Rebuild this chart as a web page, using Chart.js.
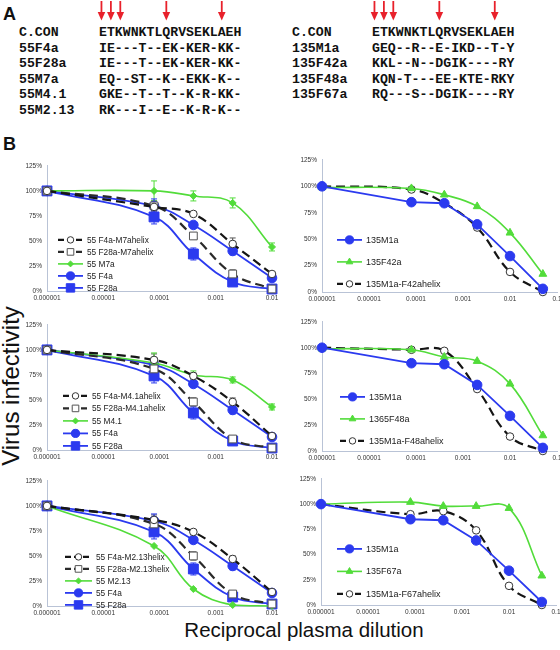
<!DOCTYPE html>
<html>
<head>
<meta charset="utf-8">
<script src="https://cdn.jsdelivr.net/npm/chart.js@4.4.1/dist/chart.umd.min.js"></script>
<style>
  body { margin: 0; background: #fff; }
  #fig { position: relative; width: 560px; height: 650px; overflow: hidden; font-family: "Liberation Sans", Arial, sans-serif; color: #111; }
  .panel { position: absolute; font-weight: bold; font-size: 18px; line-height: 18px; }
  .seq { position: absolute; font-family: "Liberation Mono", "Courier New", monospace; font-weight: bold; font-size: 13.2px; line-height: 15.5px; white-space: pre; color: #111; }
  canvas { position: absolute; }
  .title { position: absolute; white-space: nowrap; transform: translate(-50%, -50%); }
</style>
</head>
<body>
<div id="fig">
  <div class="panel" style="left:3px;top:5px">A</div>
  <div class="panel" style="left:3px;top:135px">B</div>
  <svg id="arrows" width="560" height="24" style="position:absolute;left:0;top:0"></svg>
  <div class="seq" id="namesL" style="left:19px;top:25px"></div>
  <div class="seq" id="seqL" style="left:99px;top:25px"></div>
  <div class="seq" id="namesR" style="left:292px;top:25px"></div>
  <div class="seq" id="seqR" style="left:372px;top:25px"></div>
  <div class="title" style="left:11px;top:386px;font-size:24px;transform:translate(-50%,-50%) rotate(-90deg)">Virus infectivity</div>
  <div class="title" style="left:304px;top:630px;font-size:20.5px">Reciprocal plasma dilution</div>
</div>
<script>
// ---- panel A: sequence alignment ----
const consensus = 'ETKWNKTLQRVSEKLAEH';
const namesLeft = ['C.CON', '55F4a', '55F28a', '55M7a', '55M4.1', '55M2.13'];
const seqsLeft = [consensus, 'IE---T--EK-KER-KK-', 'IE---T--EK-KER-KK-', 'EQ--ST--K--EKK-K--', 'GKE--T--T--K-R-KK-', 'RK---I--E--K-R-K--'];
const namesRight = ['C.CON', '135M1a', '135F42a', '135F48a', '135F67a'];
const seqsRight = [consensus, 'GEQ--R--E-IKD--T-Y', 'KKL--N--DGIK----RY', 'KQN-T---EE-KTE-RKY', 'RQ---S--DGIK----RY'];
const arrowCols = [0, 1, 2, 8, 15];

// ---- panel B: neutralization curves (% infectivity) ----
const xLeft = [0.000001, 0.00008, 0.0004, 0.002, 0.01];
const xRight = [0.000001, 0.00008, 0.0004, 0.002, 0.01, 0.05];
const xTicksLeft = ['0.000001', '0.00001', '0.0001', '0.001', '0.01'];
const xTicksRight = ['0.000001', '0.00001', '0.0001', '0.001', '0.01', '0.1'];
const yTicks = [0, 25, 50, 75, 100, 125];

const f4a = [100, 85, 66, 40, 13];
const f4aErr = [0, 7, 2, 4, 2];
const f28a = [100, 74, 37, 9, 2];
const f28aErr = [0, 7, 6, 2, 1];

const m7F4aHelix = [100, 84, 77, 47, 17];
const m7F4aHelixErr = [0, 4, 2, 6, 2];
const m7F28aHelix = [100, 85, 55, 17, 2];
const m7F28aHelixErr = [0, 5, 3, 4, 1];
const m7a = [100, 100, 95, 88, 44];
const m7aErr = [0, 10, 5, 5, 4];

const m41F4aHelix = [100, 90, 74, 48, 14];
const m41F4aHelixErr = [0, 6, 3, 4, 2];
const m41F28aHelix = [100, 81, 48, 11, 2];
const m41F28aHelixErr = [0, 5, 4, 2, 1];
const m41 = [100, 87, 75, 70, 43];
const m41Err = [0, 10, 4, 3, 3];

const m213F4aHelix = [100, 86, 74, 47, 14];
const m213F4aHelixErr = [0, 5, 2, 3, 2];
const m213F28aHelix = [100, 82, 50, 12, 2];
const m213F28aHelixErr = [0, 5, 4, 2, 1];
const m213 = [100, 60, 17, 1, 0];

const m1a = [100, 85, 84, 64, 34, 3];
const f42a = [99, 98, 92, 81, 56, 17];
const m1aF42Helix = [100, 97, 84, 61, 19, 0];
const f48a = [99, 98, 91, 87, 65, 15];
const m1aF48Helix = [100, 98, 97, 60, 14, 0];
const f67a = [100, 102, 98, 98, 96, 29];
const m1aF67Helix = [100, 90, 93, 74, 19, 0];

const BLUE = '#2b3aef';
const GREEN = '#52dc3a';
const BLACK = '#151515';
const AXIS = '#b9c3d6';
const FONT = '"Liberation Sans", Arial, sans-serif';

// build panel A
document.getElementById('namesL').textContent = namesLeft.join('\n');
document.getElementById('seqL').textContent = seqsLeft.join('\n');
document.getElementById('namesR').textContent = namesRight.join('\n');
document.getElementById('seqR').textContent = seqsRight.join('\n');
const charW = 13.2 * 0.6;
let svg = '';
[99, 372].forEach(x0 => {
  arrowCols.forEach((c, i) => {
    const x = x0 + (c + 0.5) * charW + (i < 3 ? (i - 1) * 1.5 : 0);
    svg += `<line x1="${x}" y1="1" x2="${x}" y2="14" stroke="#e8212b" stroke-width="1.8"/>`;
    svg += `<polygon points="${x - 3.8},12 ${x + 3.8},12 ${x},20.5" fill="#e8212b"/>`;
  });
});
document.getElementById('arrows').innerHTML = svg;

// ---- dataset helpers ----
const pts = (xs, ys) => xs.map((x, i) => ({ x: x, y: ys[i] }));

function helixCircle(label, xs, ys, err) {
  return { label, data: pts(xs, ys), errors: err, borderColor: BLACK, borderDash: [9, 5], borderWidth: 2.2,
    pointStyle: 'circle', pointRadius: 3.8, pointBackgroundColor: '#fff', pointBorderColor: '#333', pointBorderWidth: 1, tension: 0.4 };
}
function helixSquare(label, xs, ys, err) {
  return { label, data: pts(xs, ys), errors: err, borderColor: '#2a2a2a', borderDash: [9, 5], borderWidth: 2.2,
    pointStyle: 'rect', pointRadius: 5.5, pointBackgroundColor: '#fff', pointBorderColor: '#555', pointBorderWidth: 1, tension: 0.4 };
}
function greenDiamond(label, xs, ys, err) {
  return { label, data: pts(xs, ys), errors: err, borderColor: GREEN, borderWidth: 1.6,
    pointStyle: 'rectRot', pointRadius: 3.5, pointBackgroundColor: GREEN, pointBorderColor: GREEN, pointBorderWidth: 1, tension: 0.4 };
}
function greenTriangle(label, xs, ys) {
  return { label, data: pts(xs, ys), borderColor: GREEN, borderWidth: 1.6,
    pointStyle: 'triangle', pointRadius: 4.5, pointBackgroundColor: GREEN, pointBorderColor: GREEN, pointBorderWidth: 1, tension: 0.4 };
}
function blueCircle(label, xs, ys, err, tension) {
  return { label, data: pts(xs, ys), errors: err, borderColor: BLUE, borderWidth: 1.8,
    pointStyle: 'circle', pointRadius: 4.8, pointBackgroundColor: BLUE, pointBorderColor: BLUE, pointBorderWidth: 1, tension: tension };
}
function blueSquare(label, xs, ys, err) {
  return { label, data: pts(xs, ys), errors: err, borderColor: BLUE, borderWidth: 1.8,
    pointStyle: 'rect', pointRadius: 7, pointBackgroundColor: BLUE, pointBorderColor: BLUE, pointBorderWidth: 1, tension: 0.4 };
}

// error bars drawn through the chart scales
const errorBars = {
  id: 'errorBars',
  beforeDatasetsDraw(chart) {
    const { ctx, scales: { x, y } } = chart;
    chart.data.datasets.forEach(ds => {
      if (!ds.errors) return;
      ctx.save();
      ctx.strokeStyle = ds.borderColor === BLACK ? '#555' : ds.borderColor;
      ctx.lineWidth = 1;
      ds.data.forEach((p, i) => {
        const e = ds.errors[i];
        if (!e) return;
        const px = x.getPixelForValue(p.x);
        const y1 = y.getPixelForValue(p.y + e);
        const y2 = y.getPixelForValue(p.y - e);
        ctx.beginPath();
        ctx.moveTo(px, y1); ctx.lineTo(px, y2);
        ctx.moveTo(px - 3, y1); ctx.lineTo(px + 3, y1);
        ctx.moveTo(px - 3, y2); ctx.lineTo(px + 3, y2);
        ctx.stroke();
      });
      ctx.restore();
    });
  }
};

function drawMarker(ctx, style, x, y, r) {
  ctx.beginPath();
  if (style === 'circle') {
    ctx.arc(x, y, r, 0, Math.PI * 2);
  } else if (style === 'rect') {
    const s = r * Math.SQRT1_2;
    ctx.rect(x - s, y - s, 2 * s, 2 * s);
  } else if (style === 'rectRot') {
    ctx.moveTo(x, y - r); ctx.lineTo(x + r, y); ctx.lineTo(x, y + r); ctx.lineTo(x - r, y);
    ctx.closePath();
  } else if (style === 'triangle') {
    ctx.moveTo(x, y - r); ctx.lineTo(x + r * 0.87, y + r * 0.5); ctx.lineTo(x - r * 0.87, y + r * 0.5);
    ctx.closePath();
  }
  ctx.fill();
  ctx.stroke();
}

// legend drawn inside the plot area
const innerLegend = {
  id: 'innerLegend',
  afterDraw(chart, args, opts) {
    const { ctx, chartArea } = chart;
    const x0 = chartArea.left + opts.dx;
    chart.data.datasets.forEach((ds, i) => {
      const y = chartArea.top + opts.dy + i * opts.gap;
      ctx.save();
      ctx.strokeStyle = ds.borderColor;
      ctx.lineWidth = ds.borderWidth;
      ctx.setLineDash(ds.borderDash ? [6, 3] : []);
      ctx.beginPath();
      ctx.moveTo(x0, y); ctx.lineTo(x0 + opts.len, y);
      ctx.stroke();
      ctx.setLineDash([]);
      ctx.fillStyle = ds.pointBackgroundColor;
      ctx.strokeStyle = ds.pointBorderColor;
      ctx.lineWidth = ds.pointBorderWidth;
      drawMarker(ctx, ds.pointStyle, x0 + opts.len / 2, y, ds.pointRadius * 0.85);
      ctx.fillStyle = '#222';
      ctx.font = opts.fontSize + 'px ' + FONT;
      ctx.textBaseline = 'middle';
      ctx.fillText(ds.label, x0 + opts.len + 4, y + 0.5);
      ctx.restore();
    });
  }
};

const PAD_L = 30, PAD_T = 8, PAD_R = 12, X_H = 16;

function makeChart(area, xMax, tickLabels, datasets, legend) {
  const canvas = document.createElement('canvas');
  const w = area.r - area.l + PAD_L + PAD_R;
  const h = area.b - area.t + PAD_T + X_H;
  canvas.width = w; canvas.height = h;
  canvas.style.left = (area.l - PAD_L) + 'px';
  canvas.style.top = (area.t - PAD_T) + 'px';
  canvas.style.width = w + 'px';
  canvas.style.height = h + 'px';
  document.getElementById('fig').appendChild(canvas);
  new Chart(canvas.getContext('2d'), {
    type: 'line',
    data: { datasets: datasets },
    plugins: [errorBars, innerLegend],
    options: {
      responsive: false,
      animation: false,
      devicePixelRatio: 1,
      layout: { autoPadding: false, padding: { top: PAD_T, right: PAD_R, left: 0, bottom: 0 } },
      datasets: { line: { clip: false } },
      plugins: { legend: { display: false }, tooltip: { enabled: false }, innerLegend: legend },
      scales: {
        x: {
          type: 'logarithmic', min: 0.000001, max: xMax,
          afterBuildTicks: s => { s.ticks = tickLabels.map(t => ({ value: parseFloat(t) })); },
          afterFit: s => { s.height = X_H; },
          grid: { display: false, drawTicks: false },
          border: { display: true, color: AXIS, width: 1 },
          ticks: { autoSkip: false, maxRotation: 0, padding: 3, color: '#333',
            font: { size: 6.5, family: FONT }, callback: (v, i) => tickLabels[i] }
        },
        y: {
          type: 'linear', min: 0, max: 125,
          afterBuildTicks: s => { s.ticks = yTicks.map(v => ({ value: v })); },
          afterFit: s => { s.width = PAD_L; },
          grid: { display: false, drawTicks: false },
          border: { display: true, color: AXIS, width: 1 },
          ticks: { padding: 5, color: '#333', font: { size: 6.5, family: FONT }, callback: v => v + '%' }
        }
      }
    }
  });
}

// left column
makeChart({ l: 47, t: 165, r: 272, b: 291 }, 0.01, xTicksLeft, [
  helixCircle('55 F4a-M7ahelix', xLeft, m7F4aHelix, m7F4aHelixErr),
  helixSquare('55 F28a-M7ahelix', xLeft, m7F28aHelix, m7F28aHelixErr),
  greenDiamond('55 M7a', xLeft, m7a, m7aErr),
  blueCircle('55 F4a', xLeft, f4a, f4aErr, 0.4),
  blueSquare('55 F28a', xLeft, f28a, f28aErr)
], { dx: 11, dy: 74, gap: 12, len: 25, fontSize: 8.3 });

makeChart({ l: 47, t: 324, r: 272, b: 450 }, 0.01, xTicksLeft, [
  helixCircle('55 F4a-M4.1ahelix', xLeft, m41F4aHelix, m41F4aHelixErr),
  helixSquare('55 F28a-M4.1ahelix', xLeft, m41F28aHelix, m41F28aHelixErr),
  greenDiamond('55 M4.1', xLeft, m41, m41Err),
  blueCircle('55 F4a', xLeft, f4a, f4aErr, 0.4),
  blueSquare('55 F28a', xLeft, f28a, f28aErr)
], { dx: 16, dy: 71, gap: 12.5, len: 25, fontSize: 8.3 });

makeChart({ l: 47, t: 480, r: 272, b: 606 }, 0.01, xTicksLeft, [
  helixCircle('55 F4a-M2.13helix', xLeft, m213F4aHelix, m213F4aHelixErr),
  helixSquare('55 F28a-M2.13helix', xLeft, m213F28aHelix, m213F28aHelixErr),
  greenDiamond('55 M2.13', xLeft, m213, null),
  blueCircle('55 F4a', xLeft, f4a, f4aErr, 0.4),
  blueSquare('55 F28a', xLeft, f28a, f28aErr)
], { dx: 18, dy: 76, gap: 12, len: 27, fontSize: 8.3 });

// right column
makeChart({ l: 322, t: 159, r: 557, b: 292 }, 0.1, xTicksRight, [
  blueCircle('135M1a', xRight, m1a, null, 0),
  greenTriangle('135F42a', xRight, f42a),
  helixCircle('135M1a-F42ahelix', xRight, m1aF42Helix, null)
], { dx: 15, dy: 80, gap: 22, len: 25, fontSize: 9 });

makeChart({ l: 322, t: 321, r: 557, b: 451 }, 0.1, xTicksRight, [
  blueCircle('135M1a', xRight, m1a, null, 0),
  greenTriangle('1365F48a', xRight, f48a),
  helixCircle('135M1a-F48ahelix', xRight, m1aF48Helix, null)
], { dx: 18, dy: 75, gap: 22, len: 25, fontSize: 9 });

makeChart({ l: 321, t: 478, r: 556, b: 605 }, 0.1, xTicksRight, [
  blueCircle('135M1a', xRight, m1a, null, 0),
  greenTriangle('135F67a', xRight, f67a),
  helixCircle('135M1a-F67ahelix', xRight, m1aF67Helix, null)
], { dx: 16, dy: 70, gap: 22.5, len: 25, fontSize: 9 });
</script>
</body>
</html>
